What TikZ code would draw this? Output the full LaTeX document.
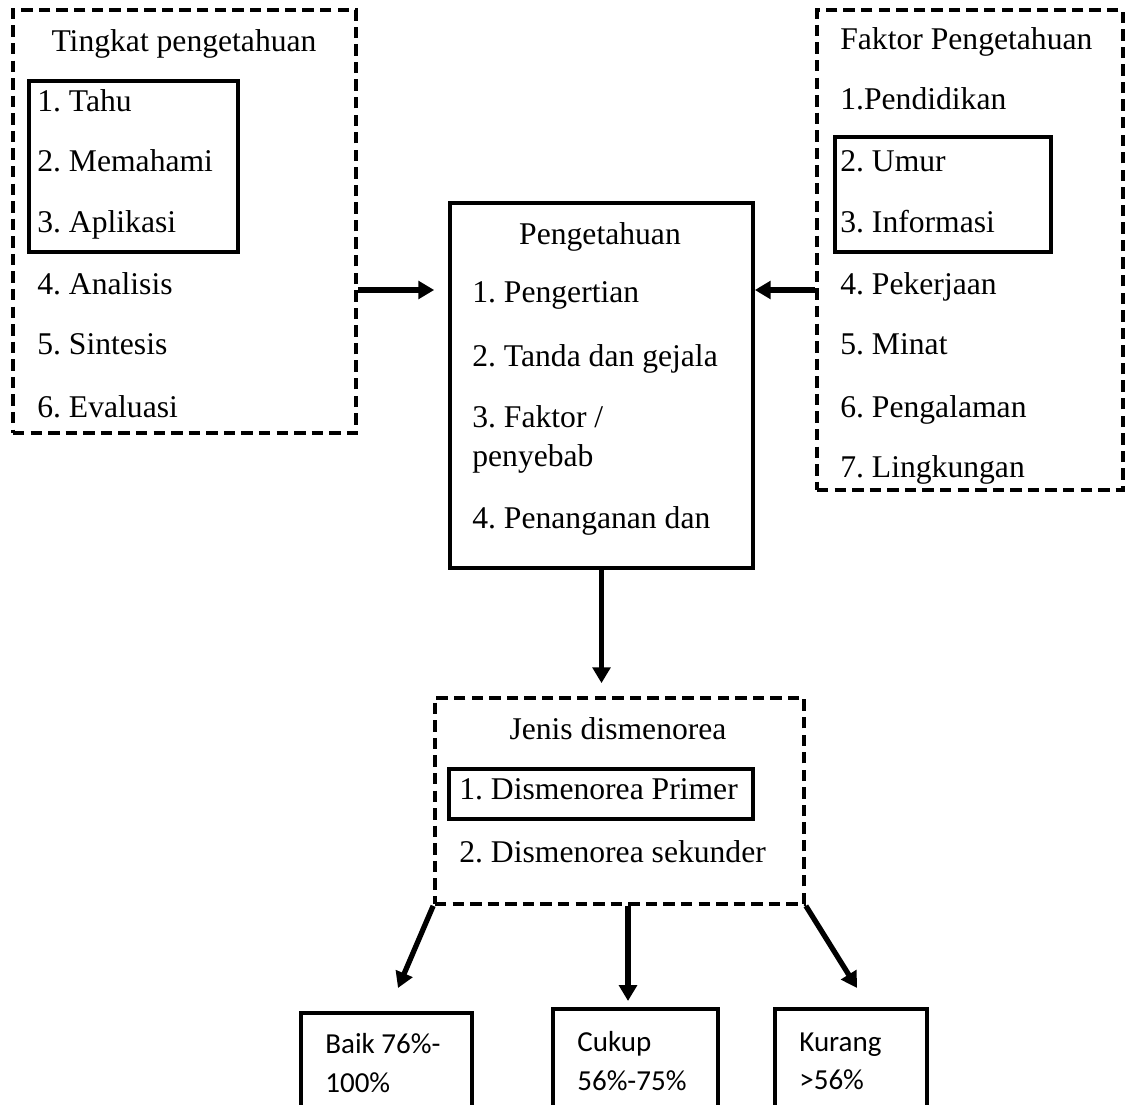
\documentclass[tikz,border=0pt]{standalone}
\usepackage{fontspec}
\setmainfont{Liberation Serif}
\newfontfamily\carlito{Carlito}
\usetikzlibrary{arrows.meta,fit}
\frenchspacing

\tikzset{
    kotak/.style={draw, line width=2.1pt, inner sep=0pt},
    kotakputus/.style={kotak, dash pattern=on 6.5pt off 3.5pt},
    teks/.style={anchor=base west, inner sep=0pt, font=\fontsize{18}{21}\selectfont},
    judul/.style={anchor=base, inner sep=0pt, font=\fontsize{18}{21}\selectfont},
    nilai/.style={anchor=base west, inner sep=0pt, font=\carlito\fontsize{16.5}{20}\selectfont},
    panah/.style={-{Triangle[length=9pt,width=10pt]}, line width=3pt},
}

\begin{document}
\begin{tikzpicture}[x=0.02cm, y=-0.02cm]
        \useasboundingbox (0,0) rectangle (1131,1104);

        % Boxes
        \node[kotakputus, fit={(13,10) (356,433)}] (tingkat) {};
        \node[kotak, fit={(29,81) (238,252)}] (tingkatpilih) {};
        \node[kotak, fit={(450,203) (753,568)}] (pusat) {};
        \node[kotakputus, fit={(817,10) (1123,490)}] (faktor) {};
        \node[kotak, fit={(835,137) (1051,252)}] (faktorpilih) {};
        \node[kotakputus, fit={(435,698) (804,904)}] (jenis) {};
        \node[kotak, fit={(449,769) (753,819)}] (jenispilih) {};
        \node[kotak, fit={(301,1013) (472,1130)}] (baik) {};
        \node[kotak, fit={(553,1009) (718,1130)}] (cukup) {};
        \node[kotak, fit={(775,1009) (927,1130)}] (kurang) {};

        % Tingkat pengetahuan
        \node[judul] (tingkatjudul) at (184,52) {Tingkat pengetahuan};
        \node[teks] (tingkat1) at (37,112) {1. Tahu};
        \node[teks] (tingkat2) at (37,172) {2. Memahami};
        \node[teks] (tingkat3) at (37,233) {3. Aplikasi};
        \node[teks] (tingkat4) at (37,295) {4. Analisis};
        \node[teks] (tingkat5) at (37,355) {5. Sintesis};
        \node[teks] (tingkat6) at (37,417) {6. Evaluasi};

        % Pengetahuan
        \node[judul] (pusatjudul) at (600,245) {Pengetahuan};
        \node[teks] (pusat1) at (472,303) {1. Pengertian};
        \node[teks] (pusat2) at (472,366) {2. Tanda dan gejala};
        \node[teks] (pusat3) at (472,427) {3. Faktor /};
        \node[teks] (pusat3b) at (472,466) {penyebab};
        \node[teks] (pusat4) at (472,528) {4. Penanganan dan};

        % Faktor pengetahuan
        \node[teks] (faktorjudul) at (840,50) {Faktor Pengetahuan};
        \node[teks] (faktor1) at (840,110) {1.Pendidikan};
        \node[teks] (faktor2) at (840,172) {2. Umur};
        \node[teks] (faktor3) at (840,233) {3. Informasi};
        \node[teks] (faktor4) at (840,295) {4. Pekerjaan};
        \node[teks] (faktor5) at (840,355) {5. Minat};
        \node[teks] (faktor6) at (840,417) {6. Pengalaman};
        \node[teks] (faktor7) at (840,477) {7. Lingkungan};

        % Jenis dismenorea
        \node[judul] (jenisjudul) at (618,739) {Jenis dismenorea};
        \node[teks] (jenis1) at (459,799) {1. Dismenorea Primer};
        \node[teks] (jenis2) at (459,862) {2. Dismenorea sekunder};

        % Hasil
        \node[nilai] (baik1) at (325,1053) {Baik 76\%-};
        \node[nilai] (baik2) at (325,1092) {100\%};
        \node[nilai] (cukup1) at (577,1051) {Cukup};
        \node[nilai] (cukup2) at (577,1090) {56\%-75\%};
        \node[nilai] (kurang1) at (799,1051) {Kurang};
        \node[nilai] (kurang2) at (799,1089) {>56\%};

        % Arrows
        \coordinate (aras) at (0,290);
        \coordinate (ujungbaik) at (398,988);
        \coordinate (ujungcukup) at (628,1001);
        \coordinate (ujungkurang) at (857,988);

        \draw[panah, shorten >=0.28cm] (tingkat.east |- aras) -- (pusat.west |- aras);
        \draw[panah] (faktor.west |- aras) -- (pusat.east |- aras);
        \draw[panah, shorten >=0.26cm] (pusat.south) -- (pusat.south |- jenis.north);

        \draw[panah] (jenis.south west) -- (ujungbaik);
        \draw[panah] (jenis.south -| ujungcukup) -- (ujungcukup);
        \draw[panah] (jenis.south east) -- (ujungkurang);
    \end{tikzpicture}
\end{document}
